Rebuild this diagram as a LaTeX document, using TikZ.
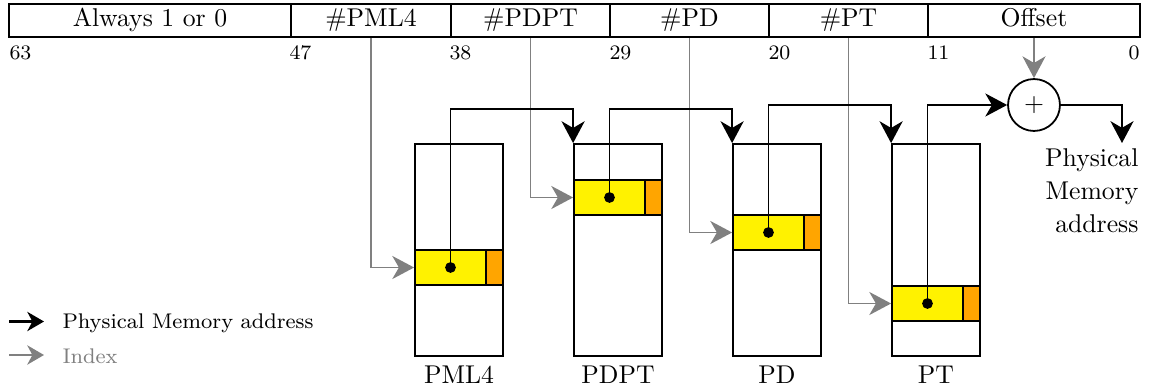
\documentclass[tikz,border=0pt]{standalone}
\usetikzlibrary{arrows.meta,fit,calc}
\definecolor{eorange}{HTML}{FFA500}
\begin{document}
\begin{tikzpicture}[x=0.389pt,y=-0.389pt,
  cell/.style={draw, line width=0.8pt, inner sep=0pt, minimum height={33*0.389pt}, minimum width={#1*0.389pt}, text height=6.94pt, text depth=1.94pt},
  tbl/.style={draw, line width=0.7pt, inner sep=0pt},
  yel/.style={draw, line width=0.7pt, inner sep=0pt, fill=yellow},
  org/.style={draw, line width=0.7pt, inner sep=0pt, fill=eorange},
  dotn/.style={circle, fill=black, inner sep=0pt, minimum size=4.2pt},
  num/.style={font=\footnotesize, inner sep=0pt},
  tlabel/.style={anchor=north, inner sep=3.3pt},
  addr/.style={draw=black, line width=0.6pt, -{Stealth[length=8.5pt,width=9pt,inset=2.6pt]}},
  idx/.style={draw=gray, line width=0.6pt, -{Stealth[length=8.5pt,width=9pt,inset=2.6pt]}},
  legaddr/.style={draw=black, line width=0.9pt, -{Stealth[length=6.5pt,width=7.5pt,inset=2pt]}},
  legidx/.style={draw=gray, line width=0.9pt, -{Stealth[length=6.5pt,width=7.5pt,inset=2pt]}},
  legtext/.style={anchor=base west, inner sep=0pt, font=\fontsize{8.25}{10}\selectfont},
]
\useasboundingbox (0,0) rectangle (1150,389);

% top bar
\node[cell=282] (falw) at (150,20.5) {Always 1 or 0};
\node[cell=160] (fpml4) at (371,20.5) {\#PML4};
\node[cell=159] (fpdpt) at (530.5,20.5) {\#PDPT};
\node[cell=159] (fpd) at (689.5,20.5) {\#PD};
\node[cell=159] (fpt) at (848.5,20.5) {\#PT};
\node[cell=212] (foff) at (1034,20.5) {Offset};

% bit numbers
\node[num, anchor=base west] (n63) at (9,59.5) {63};
\node[num, anchor=base west] (n47) at (289,59.5) {47};
\node[num, anchor=base west] (n38) at (449,59.5) {38};
\node[num, anchor=base west] (n29) at (609,59.5) {29};
\node[num, anchor=base west] (n20) at (768,59.5) {20};
\node[num, anchor=base west] (n11) at (927,59.5) {11};
\node[num, anchor=base east] (n0) at (1140,59.5) {0};

% tables
\node[tbl, fit={(415,144) (503,356)}] (tpml4) {};
\node[tbl, fit={(574,144) (662,356)}] (tpdpt) {};
\node[tbl, fit={(733,144) (821,356)}] (tpd) {};
\node[tbl, fit={(892,144) (980,356)}] (tpt) {};
\node[tlabel] (lpml4) at (tpml4.south) {PML4};
\node[tlabel] (lpdpt) at (tpdpt.south) {PDPT};
\node[tlabel] (lpd) at (tpd.south) {PD};
\node[tlabel] (lpt) at (tpt.south) {PT};

% entries
\node[yel, fit={(415,250) (486,285)}] (epml4) {};
\node[org, fit={(486,250) (503,285)}] (opml4) {};
\node[yel, fit={(574,180) (645,215)}] (epdpt) {};
\node[org, fit={(645,180) (662,215)}] (opdpt) {};
\node[yel, fit={(733,215) (804,250)}] (epd) {};
\node[org, fit={(804,215) (821,250)}] (opd) {};
\node[yel, fit={(892,286) (963,321)}] (ept) {};
\node[org, fit={(963,286) (980,321)}] (opt) {};

% adder
\node[circle, draw, line width=0.7pt, minimum size=20.2pt, inner sep=0pt] (plus) at (1034,105) {$+$};
\node[anchor=north east, align=right, inner sep=0pt, font={\fontsize{10}{12.8}\selectfont}] (pma) at (1139,148) {Physical\\Memory\\address};
\coordinate (pout) at (1122,143);

% level coordinates
\coordinate (lvlA) at (0,109);
\coordinate (lvlB) at (0,105);

% index arrows
\draw[idx] (fpml4.south) |- (epml4.west);
\draw[idx] (fpdpt.south) |- (epdpt.west);
\draw[idx] (fpd.south) |- (epd.west);
\draw[idx] (fpt.south) |- (ept.west);
\draw[idx] (foff.south) -- (plus.north);

% address arrows
\draw[addr] (epml4.center) -- (epml4.center |- lvlA) -| (tpdpt.north west);
\draw[addr] (epdpt.center) -- (epdpt.center |- lvlA) -| (tpd.north west);
\draw[addr] (epd.center) -- (epd.center |- lvlB) -| (tpt.north west);
\draw[addr] (ept.center) -- (ept.center |- plus.west) -- (plus.west);
\draw[addr] (plus.east) -| (pout);

% dots
\node[dotn] (d1) at (epml4.center) {};
\node[dotn] (d2) at (epdpt.center) {};
\node[dotn] (d3) at (epd.center) {};
\node[dotn] (d4) at (ept.center) {};

% legend
\coordinate (la1s) at (9,321.5);
\coordinate (la1e) at (44,321.5);
\coordinate (la2s) at (9,355);
\coordinate (la2e) at (44,355);
\draw[legaddr] (la1s) -- (la1e);
\draw[legidx] (la2s) -- (la2e);
\node[legtext] (leg1) at (62,328) {Physical Memory address};
\node[legtext, text=gray] (leg2) at (62,363) {Index};
\end{tikzpicture}
\end{document}
